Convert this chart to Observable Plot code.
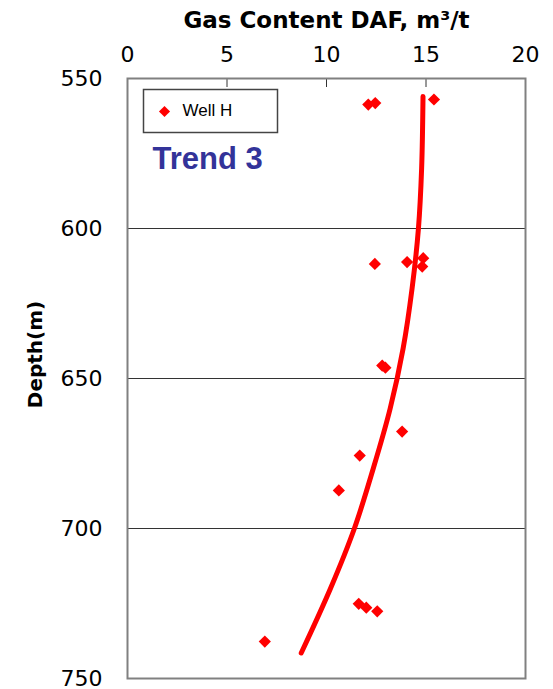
<!DOCTYPE html>
<html><head><meta charset="utf-8">
<script src="https://cdn.jsdelivr.net/npm/d3@7"></script>
<script src="https://cdn.jsdelivr.net/npm/@observablehq/plot@0.6"></script>
<style>body{margin:0;background:#fff} #chart svg{display:block}</style>
</head><body><div id="chart"></div>
<script>
const xTicks = [0, 5, 10, 15, 20];
const xInnerTicks = [5, 10, 15];
const yTicks = [550, 600, 650, 700, 750];
const gridDepths = [600, 650, 700];
const wellGas =   [12.1, 12.45, 15.4, 12.43, 14.05, 14.86, 14.81, 12.8, 12.96, 13.8, 11.67, 10.62, 11.62, 12.0, 12.55, 6.9];
const wellDepth = [558.7, 558.2, 557, 611.8, 611.2, 609.9, 612.7, 645.7, 646.4, 667.7, 675.7, 687.3, 725.1, 726.4, 727.6, 737.7];
const trendGas =   [14.85, 14.78, 14.62, 14.30, 13.85, 13.20, 12.35, 11.40, 10.20, 8.73];
const trendDepth = [556, 580, 600, 620, 640, 660, 680, 700, 720, 741.5];
const seriesName = "Well H";
const title = "Gas Content DAF, m³/t";
const yLabel = "Depth(m)";
const trendLabel = "Trend 3";

const wells = wellGas.map((g, i) => ({gas: g, depth: wellDepth[i]}));
const trend = trendGas.map((g, i) => ({gas: g, depth: trendDepth[i]}));

const plot = Plot.plot({
  width: 553, height: 689,
  marginLeft: 127, marginRight: 28, marginTop: 78, marginBottom: 11,
  style: {background: "#fff", fontFamily: "DejaVu Sans", color: "#000", overflow: "visible"},
  x: {domain: [0, 20]},
  y: {domain: [550, 750], reverse: true},
  marks: [
    Plot.ruleY(gridDepths, {stroke: "#333", strokeWidth: 1}),
    Plot.axisX({anchor: "top", ticks: xTicks, tickSize: 0, tickPadding: 17, fontSize: 22, label: null}),
    Plot.axisX({anchor: "top", ticks: xInnerTicks, tickSize: 8, dy: 8, text: null, label: null, stroke: "#333"}),
    Plot.axisY({anchor: "left", ticks: yTicks, tickSize: 0, tickPadding: 25, fontSize: 22, label: null}),
    Plot.line(trend, {x: "gas", y: "depth", stroke: "#ff0000", strokeWidth: 5, curve: "catmull-rom"}),
    Plot.dot(wells, {x: "gas", y: "depth", symbol: "diamond2", fill: "#ff0000", r: 5.5}),
    Plot.frame({stroke: "#808080", strokeWidth: 2}),
    Plot.frame({insetLeft: 16, insetTop: 11, insetRight: 248, insetBottom: 546, stroke: "#444", strokeWidth: 1.5}),
    Plot.dot([seriesName], {frameAnchor: "top-left", dx: 37, dy: 33, symbol: "diamond2", fill: "#ff0000", r: 5}),
    Plot.text([seriesName], {text: d => d, frameAnchor: "top-left", dx: 55, dy: 32, textAnchor: "start", lineAnchor: "middle", fontSize: 17, fontFamily: "Liberation Sans"}),
    Plot.text([trendLabel], {text: d => d, frameAnchor: "top-left", dx: 25, dy: 81, textAnchor: "start", lineAnchor: "middle", fontSize: 31, fontWeight: "bold", fontFamily: "Liberation Sans", fill: "#333399"}),
    Plot.text([title], {text: d => d, frameAnchor: "top", dy: -58, lineAnchor: "middle", fontSize: 23, fontWeight: "bold"}),
    Plot.text([yLabel], {text: d => d, frameAnchor: "left", dx: -92, dy: -24, rotate: -90, textAnchor: "middle", lineAnchor: "middle", fontSize: 20, fontWeight: "bold"})
  ]
});
document.getElementById("chart").appendChild(plot);
</script>
</body></html>
